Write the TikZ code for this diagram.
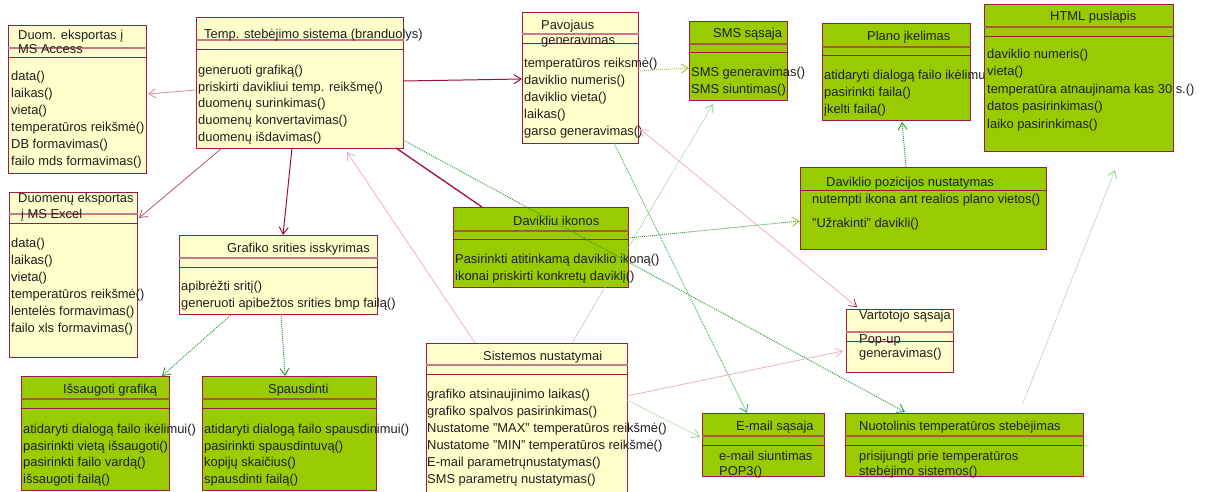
\documentclass[tikz,border=0pt]{standalone}
\usepackage{fontspec}
\setmainfont{Liberation Sans}
\usetikzlibrary{calc,arrows.meta}

\definecolor{cream}{HTML}{FFFFCC}
\definecolor{leaf}{HTML}{99CC00}
\definecolor{wine}{HTML}{A01848}
\definecolor{ysep}{HTML}{C87888}
\definecolor{gsep}{HTML}{A85838}
\definecolor{rose}{HTML}{E8A8C0}
\definecolor{rosemid}{HTML}{D888A8}
\definecolor{rosedark}{HTML}{C05070}
\definecolor{crim}{HTML}{A0103F}
\definecolor{dgreen}{HTML}{2E9A2E}
\definecolor{mgreen}{HTML}{48AA48}
\definecolor{lgreen}{HTML}{8CCF8C}
\definecolor{ygreen}{HTML}{A8C828}

\tikzset{
  every node/.style={font=\fontsize{12.9}{15}\selectfont},
  ybox/.style={draw=wine, fill=cream, line width=1.2pt, inner sep=0pt},
  gbox/.style={draw=wine, fill=leaf, line width=1.2pt, inner sep=0pt},
  yboxsep/.style={draw=ysep, line width=1.2pt},
  gboxsep/.style={draw=gsep, line width=1.2pt},
  boxline/.style={draw=wine, line width=1pt},
  txt/.style={anchor=west, inner sep=0pt, text height=9.4pt, text depth=2.8pt, text=black!88, yshift=-2pt},
  tip/.style={-{Straight Barb[length=7pt,width=9pt]}},
  dots/.style={dash pattern=on 1pt off 1pt},
  lightlink/.style={tip, draw=rose, line width=0.7pt},
  midlink/.style={tip, draw=rosemid, line width=0.8pt},
  strong/.style={draw=crim, line width=1pt},
  dlink/.style={tip, dots, draw=dgreen, line width=0.9pt},
  llink/.style={tip, dots, draw=lgreen, line width=0.8pt},
}

% class box: name, style, x, y, width, height, first and second divider offsets
\newcommand\classbox[8]{%
  \node[#2, minimum width=#5pt, minimum height=#6pt, anchor=north west] (#1) at (#3,#4) {};
  \draw[#2sep] ($(#1.north west)+(0,#7)$) -- ($(#1.north east)+(0,#7)$);
  \draw[boxline] ($(#1.north west)+(0,#8)$) -- ($(#1.north east)+(0,#8)$);
}
% operation list: prefix, x, first y, step, items
\newcommand\oplist[5]{%
  \foreach \t [count=\i] in {#5} {\node[txt] (#1-\i) at (#2,{#3+#4*(\i-1)}) {\t};}
}

\begin{document}
\begin{tikzpicture}[x=1pt, y=-1pt]
\useasboundingbox[fill=white] (0,0) rectangle (1209,491);

% ---- classes ----
\classbox{acc}{ybox}{8}{25}{138}{148}{23}{32}
\node[txt] (acc-t1) at (18,34) {Duom. eksportas į};
\node[txt] (acc-t2) at (18,48) {MS Access};
\oplist{acc}{11}{75}{17}{data(),laikas(),vieta(),temperatūros reikšmė(),DB formavimas(),failo mds formavimas()}

\classbox{core}{ybox}{196}{17}{207}{131}{23}{32}
\node[txt] (core-t) at (204,33) {Temp. stebėjimo sistema (branduolys)};
\oplist{core}{198}{69}{16.8}{generuoti grafiką(),priskirti davikliui temp. reikšmę(),duomenų surinkimas(),duomenų konvertavimas(),duomenų išdavimas()}

\classbox{pav}{ybox}{522}{12}{116}{131}{22}{31}
\node[txt] (pav-t1) at (541,24) {Pavojaus};
\node[txt] (pav-t2) at (541,39) {generavimas};
\oplist{pav}{524}{62}{17}{temperatūros reiksmė(),daviklio numeris(),daviklio vieta(),laikas(),garso generavimas()}

\classbox{sms}{gbox}{689}{21}{98}{79}{23}{31}
\node[txt] (sms-t) at (713,32) {SMS sąsaja};
\oplist{sms}{691}{71}{17}{SMS generavimas(),SMS siuntimas()}

\classbox{plano}{gbox}{822}{23}{148}{97}{24}{32}
\node[txt] (plano-t) at (867,35) {Plano įkelimas};
\oplist{plano}{824}{74}{17}{atidaryti dialogą failo ikėlimui(),pasirinkti faila(),įkelti faila()}

\classbox{html}{gbox}{984}{4}{189}{147}{23}{32}
\node[txt] (html-t) at (1050,15) {HTML puslapis};
\oplist{html}{987}{53}{17.5}{daviklio numeris(),vieta(),temperatūra atnaujinama kas 30 s.(),datos pasirinkimas(),laiko pasirinkimas()}

\node[gbox, minimum width=246pt, minimum height=82pt, anchor=north west] (dpoz) at (800,167) {};
\draw[boxline] ($(dpoz.north west)+(0,23)$) -- ($(dpoz.north east)+(0,23)$);
\node[txt] (dpoz-t) at (826,181) {Daviklio pozicijos nustatymas};
\node[txt] (dpoz-1) at (812,198) {nutempti ikona ant realios plano vietos()};
\node[txt] (dpoz-2) at (812,222) {"Užrakinti" davikli()};

\classbox{xls}{ybox}{9}{192}{128}{165}{22}{31}
\node[txt] (xls-t1) at (18,197) {Duomenų eksportas};
\node[txt] (xls-t2) at (21,213) {į MS Excel};
\oplist{xls}{11}{242}{17}{data(),laikas(),vieta(),temperatūros reikšmė(),lentelės formavimas(),failo xls formavimas()}

\classbox{graf}{ybox}{179}{235}{198}{79}{23}{32}
\node[txt] (graf-t) at (227,247) {Grafiko srities isskyrimas};
\oplist{graf}{181}{285}{17}{apibrėžti sritį(),generuoti apibežtos srities bmp failą()}

\classbox{ikon}{gbox}{453}{207}{175}{80}{24}{32}
\node[txt] (ikon-t) at (513,220) {Davikliu ikonos};
\oplist{ikon}{455}{258}{17}{Pasirinkti atitinkamą daviklio ikoną(),ikonai priskirti konkretų daviklį()}

\classbox{vart}{ybox}{846}{309}{107}{63}{23}{32}
\node[txt] (vart-t) at (859,314) {Vartotojo sąsaja};
\node[txt] (vart-1) at (859,338) {Pop-up};
\node[txt] (vart-2) at (859,352) {generavimas()};

\classbox{isaug}{gbox}{21}{376}{148}{114}{23}{32}
\node[txt] (isaug-t) at (63,388) {Išsaugoti grafiką};
\oplist{isaug}{23}{428}{16.7}{atidaryti dialogą failo ikėlimui(),pasirinkti vietą išsaugoti(),pasirinkti failo vardą(),išsaugoti failą()}

\classbox{spaus}{gbox}{202}{376}{174}{114}{23}{32}
\node[txt] (spaus-t) at (268,388) {Spausdinti};
\oplist{spaus}{204}{428}{16.7}{atidaryti dialogą failo spausdinimui(),pasirinkti spausdintuvą(),kopijų skaičius(),spausdinti failą()}

\classbox{sist}{ybox}{426}{343}{201}{160}{22}{31}
\node[txt] (sist-t) at (483,355) {Sistemos nustatymai};
\oplist{sist}{427}{393}{17}{grafiko atsinaujinimo laikas(),grafiko spalvos pasirinkimas(),Nustatome "MAX" temperatūros reikšmė(),Nustatome "MIN" temperatūros reikšmė(),E-mail parametrųnustatymas(),SMS parametrų nustatymas()}

\classbox{email}{gbox}{702}{413}{122}{63}{23}{32}
\node[txt] (email-t) at (736,425) {E-mail sąsaja};
\node[txt] (email-1) at (719,455) {e-mail siuntimas};
\node[txt] (email-2) at (719,470) {POP3()};

\classbox{nuot}{gbox}{845}{413}{238}{63}{23}{32}
\node[txt] (nuot-t) at (859,425) {Nuotolinis temperatūros stebėjimas};
\node[txt] (nuot-1) at (859,455) {prisijungti prie temperatūros};
\node[txt] (nuot-2) at (859,470) {stebėjimo sistemos()};

% ---- relations ----
\draw[midlink] ($(core.north west)+(0,73)$) -- ($(acc.north west)+(140,69)$);
\draw[tip, strong] ($(core.north west)+(207,64)$) -- ($(pav.north west)+(0,67)$);
\draw[tip, draw=rosedark, line width=0.8pt] ($(core.north west)+(26,131)$) -- ($(xls.north west)+(130,26)$);
\draw[tip, strong] ($(core.north west)+(96,131)$) -- ($(graf.north west)+(104,0)$);
\draw[lightlink] ($(sist.north west)+(49,0)$) -- ($(core.north west)+(151,135)$);
\draw[strong, line width=1.3pt] ($(core.north west)+(200,131)$) -- ($(ikon.north west)+(29,0)$);
\draw[dlink] ($(core.north west)+(207,123)$) -- ($(nuot.north west)+(60,-1)$);
\draw[tip, dots, draw=ygreen, line width=0.9pt] ($(pav.north west)+(116,59)$) -- ($(sms.north west)+(0,47)$);
\draw[llink] ($(sist.north west)+(146,0)$) -- ($(sms.north west)+(24,83)$);
\draw[draw=rose, line width=0.7pt, {Straight Barb[length=7pt,width=9pt]}-{Straight Barb[length=7pt,width=9pt,color=crim]}]
  ($(pav.north west)+(118,117)$) -- ($(vart.north west)+(11,-2)$);
\draw[lightlink] ($(sist.north west)+(201,53)$) -- ($(vart.north west)+(-3,42)$);
\draw[llink] ($(sist.north west)+(201,57)$) -- ($(email.north west)+(-2,24)$);
\draw[tip, dots, draw=mgreen, line width=0.9pt] ($(pav.north west)+(92,131)$) -- ($(email.north west)+(45,0)$);
\draw[dlink] ($(graf.north west)+(53,79)$) -- ($(isaug.north west)+(141,0)$);
\draw[dlink] ($(graf.north west)+(102,79)$) -- ($(spaus.north west)+(83,0)$);
\draw[dlink] ($(dpoz.north west)+(106,0)$) -- ($(plano.north west)+(80,99)$);
\draw[dots, draw=dgreen, line width=0.9pt, -{Straight Barb[length=7pt,width=9pt,color=ygreen]}]
  ($(ikon.north west)+(175,31)$) -- ($(dpoz.north west)+(0,54)$);
\draw[llink] ($(nuot.north west)+(178,-10)$) -- ($(html.north west)+(131,166)$);
\end{tikzpicture}
\end{document}
